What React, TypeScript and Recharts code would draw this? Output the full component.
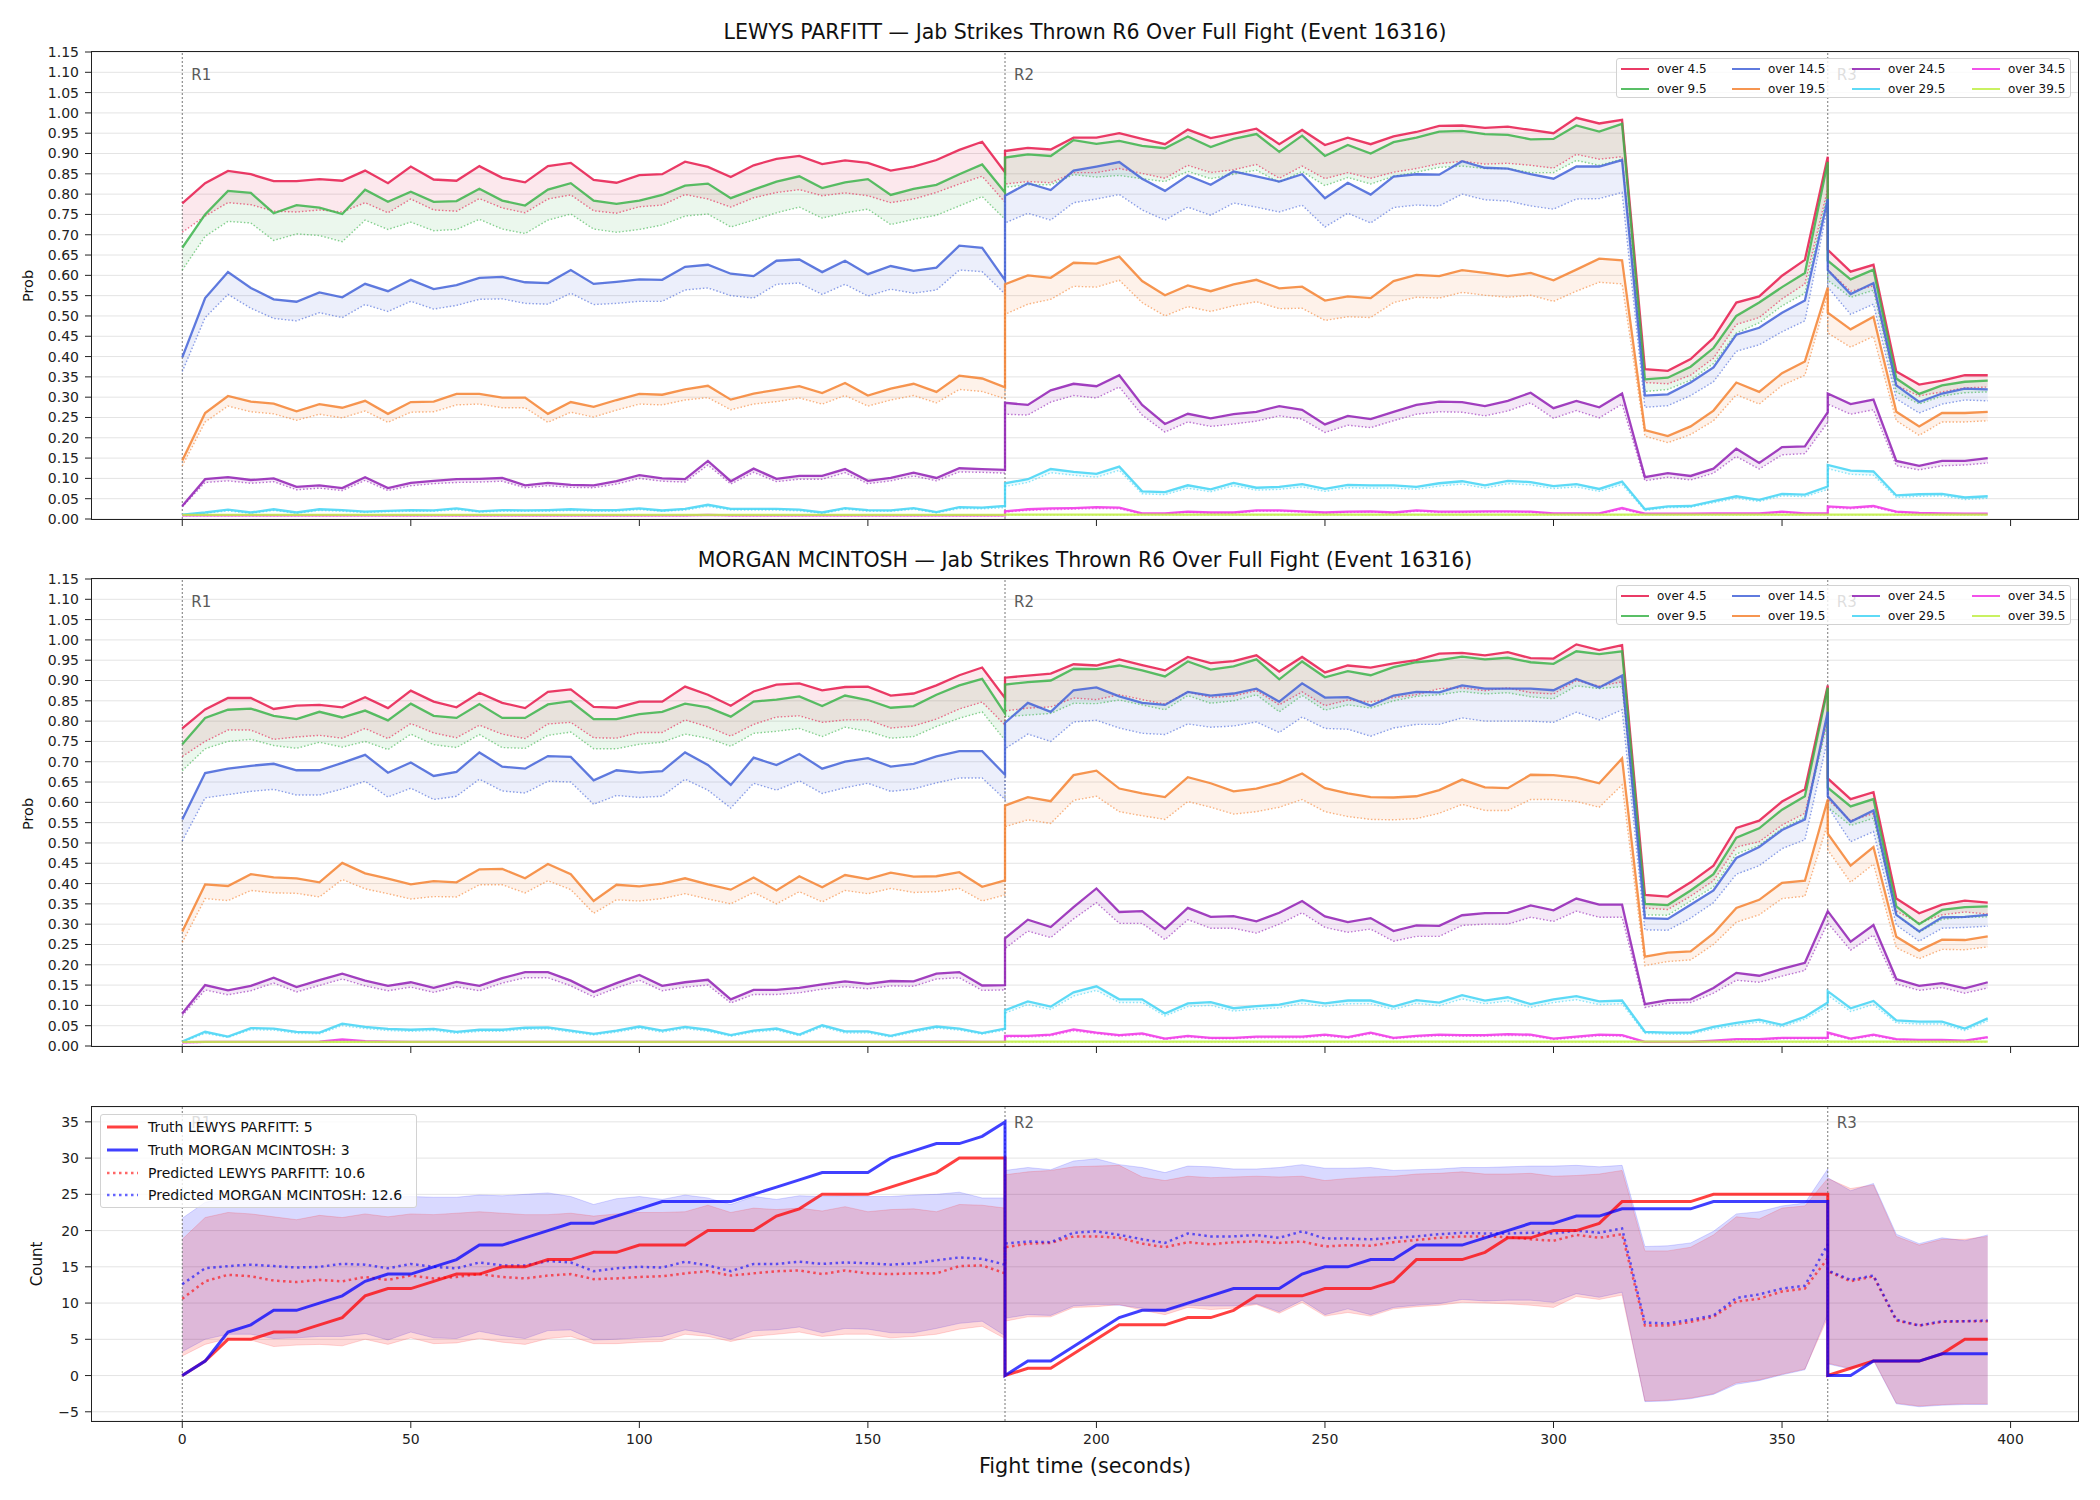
import React from 'react';
import { Area, CartesianGrid, ComposedChart, Line, ReferenceLine, XAxis, YAxis } from 'recharts';

const FONT = '"DejaVu Sans", Verdana, sans-serif';

// sample times in seconds; 180 and 360 appear twice (end of one round, start of the next)
const TIME = [
  0, 5, 10, 15, 20, 25, 30, 35, 40, 45, 50, 55, 60, 65, 70, 75, 80, 85, 90, 95, 100, 105, 110, 115, 120, 125, 130, 135, 140, 145, 150, 155, 160, 165, 170, 175, 180,
  180, 185, 190, 195, 200, 205, 210, 215, 220, 225, 230, 235, 240, 245, 250, 255, 260, 265, 270, 275, 280, 285, 290, 295, 300, 305, 310, 315, 320, 325, 330, 335, 340, 345, 350, 355, 360,
  360, 365, 370, 375, 380, 385, 390, 395,
];

const LINES = ['over 4.5', 'over 9.5', 'over 14.5', 'over 19.5', 'over 24.5', 'over 29.5', 'over 34.5', 'over 39.5'];
const LINE_COLORS = ['#e6194b', '#3cb44b', '#4363d8', '#f58231', '#911eb4', '#42d4f4', '#f032e6', '#bfef45'];

const PROB_TICKS = [0, 0.05, 0.1, 0.15, 0.2, 0.25, 0.3, 0.35, 0.4, 0.45, 0.5, 0.55, 0.6, 0.65, 0.7, 0.75, 0.8, 0.85, 0.9, 0.95, 1, 1.05, 1.1, 1.15];
const COUNT_TICKS = [-5, 0, 5, 10, 15, 20, 25, 30, 35];
const TIME_TICKS = [0, 50, 100, 150, 200, 250, 300, 350, 400];
const ROUND_STARTS = [0, 180, 360];
const ROUND_NAMES = ['R1', 'R2', 'R3'];

// ---- LEWYS PARFITT: model probability (solid) and predicted (dotted) per line
const L_RED = [
  0.777, 0.827, 0.857, 0.849, 0.832, 0.832, 0.837, 0.833, 0.858, 0.827, 0.868, 0.836, 0.833, 0.869, 0.84, 0.829, 0.869, 0.877, 0.835, 0.828, 0.847, 0.849, 0.88, 0.867, 0.842, 0.871, 0.887, 0.894, 0.874, 0.883, 0.877, 0.858, 0.868, 0.884, 0.909, 0.929, 0.854,
  0.906, 0.914, 0.91, 0.939, 0.939, 0.95, 0.936, 0.923, 0.959, 0.938, 0.949, 0.961, 0.923, 0.958, 0.921, 0.939, 0.923, 0.942, 0.953, 0.968, 0.969, 0.963, 0.966, 0.958, 0.95, 0.988, 0.974, 0.983, 0.369, 0.365, 0.394, 0.446, 0.533, 0.548, 0.599, 0.638, 0.892,
  0.663, 0.609, 0.626, 0.363, 0.331, 0.341, 0.354, 0.354,
];
const L_RED_P = [
  0.706, 0.746, 0.779, 0.774, 0.758, 0.756, 0.761, 0.756, 0.779, 0.754, 0.788, 0.761, 0.758, 0.789, 0.766, 0.754, 0.788, 0.798, 0.759, 0.753, 0.769, 0.773, 0.799, 0.788, 0.768, 0.791, 0.804, 0.811, 0.796, 0.803, 0.796, 0.779, 0.788, 0.804, 0.825, 0.844, 0.78,
  0.825, 0.831, 0.828, 0.853, 0.853, 0.863, 0.851, 0.839, 0.871, 0.853, 0.86, 0.873, 0.839, 0.869, 0.838, 0.853, 0.839, 0.854, 0.863, 0.875, 0.881, 0.874, 0.876, 0.871, 0.864, 0.898, 0.886, 0.892, 0.336, 0.333, 0.354, 0.396, 0.479, 0.496, 0.542, 0.579, 0.813,
  0.613, 0.561, 0.574, 0.329, 0.303, 0.313, 0.323, 0.325,
];
const L_GRN = [
  0.668, 0.75, 0.808, 0.803, 0.753, 0.773, 0.767, 0.751, 0.811, 0.781, 0.806, 0.781, 0.783, 0.813, 0.784, 0.772, 0.811, 0.827, 0.784, 0.776, 0.784, 0.798, 0.821, 0.826, 0.79, 0.811, 0.831, 0.844, 0.815, 0.829, 0.837, 0.798, 0.813, 0.823, 0.849, 0.873, 0.804,
  0.89, 0.898, 0.894, 0.933, 0.924, 0.931, 0.919, 0.913, 0.942, 0.916, 0.936, 0.948, 0.904, 0.944, 0.894, 0.921, 0.9, 0.928, 0.939, 0.954, 0.956, 0.948, 0.946, 0.935, 0.936, 0.969, 0.954, 0.973, 0.344, 0.348, 0.375, 0.421, 0.5, 0.533, 0.571, 0.606, 0.879,
  0.636, 0.59, 0.614, 0.346, 0.308, 0.329, 0.338, 0.341,
];
const L_GRN_P = [
  0.613, 0.696, 0.733, 0.729, 0.686, 0.702, 0.698, 0.683, 0.736, 0.713, 0.731, 0.71, 0.713, 0.738, 0.714, 0.703, 0.736, 0.751, 0.714, 0.706, 0.713, 0.724, 0.746, 0.751, 0.719, 0.736, 0.754, 0.768, 0.741, 0.754, 0.763, 0.725, 0.738, 0.748, 0.771, 0.794, 0.738,
  0.817, 0.823, 0.823, 0.848, 0.842, 0.846, 0.838, 0.831, 0.856, 0.838, 0.849, 0.859, 0.829, 0.856, 0.821, 0.841, 0.825, 0.844, 0.854, 0.866, 0.869, 0.863, 0.863, 0.853, 0.853, 0.883, 0.871, 0.886, 0.314, 0.319, 0.342, 0.383, 0.458, 0.483, 0.525, 0.556, 0.804,
  0.588, 0.546, 0.563, 0.313, 0.283, 0.303, 0.311, 0.313,
];
const L_BLU = [
  0.398, 0.544, 0.608, 0.569, 0.541, 0.535, 0.558, 0.546, 0.579, 0.561, 0.589, 0.566, 0.576, 0.594, 0.596, 0.583, 0.581, 0.613, 0.579, 0.584, 0.59, 0.589, 0.621, 0.626, 0.604, 0.598, 0.636, 0.639, 0.608, 0.636, 0.603, 0.623, 0.611, 0.619, 0.673, 0.668, 0.588,
  0.796, 0.827, 0.81, 0.858, 0.868, 0.879, 0.838, 0.808, 0.846, 0.823, 0.856, 0.844, 0.831, 0.849, 0.79, 0.828, 0.799, 0.843, 0.849, 0.848, 0.881, 0.865, 0.863, 0.849, 0.838, 0.868, 0.868, 0.884, 0.304, 0.307, 0.336, 0.373, 0.454, 0.471, 0.508, 0.538, 0.788,
  0.613, 0.554, 0.581, 0.329, 0.288, 0.309, 0.321, 0.319,
];
const L_BLU_P = [
  0.363, 0.496, 0.553, 0.519, 0.494, 0.488, 0.508, 0.496, 0.528, 0.511, 0.536, 0.517, 0.526, 0.541, 0.542, 0.531, 0.529, 0.556, 0.528, 0.531, 0.536, 0.536, 0.564, 0.569, 0.55, 0.544, 0.578, 0.581, 0.553, 0.578, 0.549, 0.566, 0.556, 0.564, 0.613, 0.609, 0.554,
  0.729, 0.753, 0.736, 0.779, 0.788, 0.799, 0.761, 0.736, 0.768, 0.748, 0.778, 0.768, 0.756, 0.773, 0.719, 0.753, 0.729, 0.767, 0.773, 0.771, 0.8, 0.786, 0.783, 0.771, 0.763, 0.788, 0.789, 0.804, 0.275, 0.279, 0.304, 0.338, 0.413, 0.429, 0.461, 0.488, 0.771,
  0.571, 0.504, 0.529, 0.296, 0.261, 0.283, 0.293, 0.291,
];
const L_ORG = [
  0.144, 0.261, 0.303, 0.289, 0.284, 0.265, 0.283, 0.274, 0.291, 0.259, 0.288, 0.289, 0.308, 0.308, 0.299, 0.299, 0.259, 0.288, 0.276, 0.293, 0.308, 0.306, 0.319, 0.328, 0.294, 0.309, 0.318, 0.327, 0.31, 0.335, 0.304, 0.321, 0.333, 0.313, 0.353, 0.346, 0.324,
  0.578, 0.6, 0.594, 0.631, 0.629, 0.646, 0.586, 0.551, 0.575, 0.561, 0.578, 0.589, 0.568, 0.572, 0.538, 0.548, 0.544, 0.586, 0.601, 0.598, 0.613, 0.606, 0.598, 0.606, 0.588, 0.614, 0.641, 0.637, 0.219, 0.204, 0.228, 0.267, 0.336, 0.313, 0.359, 0.388, 0.57,
  0.508, 0.467, 0.498, 0.264, 0.228, 0.261, 0.261, 0.264,
];
const L_ORG_P = [
  0.131, 0.239, 0.278, 0.264, 0.259, 0.243, 0.258, 0.249, 0.266, 0.238, 0.263, 0.264, 0.281, 0.283, 0.274, 0.274, 0.238, 0.263, 0.251, 0.268, 0.283, 0.281, 0.293, 0.299, 0.269, 0.283, 0.289, 0.298, 0.283, 0.304, 0.278, 0.293, 0.304, 0.286, 0.319, 0.314, 0.296,
  0.504, 0.529, 0.541, 0.573, 0.571, 0.588, 0.533, 0.5, 0.523, 0.511, 0.525, 0.535, 0.518, 0.519, 0.489, 0.498, 0.496, 0.533, 0.546, 0.544, 0.558, 0.551, 0.546, 0.551, 0.536, 0.561, 0.583, 0.579, 0.204, 0.188, 0.208, 0.242, 0.306, 0.283, 0.329, 0.354, 0.554,
  0.458, 0.423, 0.45, 0.242, 0.206, 0.239, 0.239, 0.242,
];
const L_PUR = [
  0.032, 0.098, 0.103, 0.096, 0.1, 0.079, 0.083, 0.076, 0.103, 0.076, 0.089, 0.094, 0.098, 0.099, 0.101, 0.083, 0.089, 0.084, 0.083, 0.093, 0.108, 0.1, 0.098, 0.143, 0.093, 0.124, 0.099, 0.106, 0.106, 0.123, 0.094, 0.101, 0.114, 0.101, 0.125, 0.123, 0.121,
  0.286, 0.281, 0.317, 0.333, 0.327, 0.354, 0.281, 0.234, 0.259, 0.248, 0.258, 0.264, 0.278, 0.269, 0.233, 0.254, 0.246, 0.264, 0.281, 0.289, 0.288, 0.278, 0.291, 0.311, 0.273, 0.291, 0.275, 0.309, 0.103, 0.113, 0.106, 0.124, 0.173, 0.138, 0.177, 0.179, 0.263,
  0.309, 0.283, 0.294, 0.143, 0.131, 0.143, 0.143, 0.15,
];
const L_PUR_P = [
  0.03, 0.09, 0.094, 0.088, 0.092, 0.072, 0.076, 0.07, 0.095, 0.07, 0.082, 0.087, 0.09, 0.091, 0.093, 0.077, 0.082, 0.078, 0.077, 0.086, 0.1, 0.093, 0.091, 0.133, 0.086, 0.115, 0.092, 0.098, 0.098, 0.114, 0.087, 0.094, 0.106, 0.094, 0.116, 0.115, 0.113,
  0.258, 0.256, 0.288, 0.304, 0.298, 0.325, 0.256, 0.214, 0.239, 0.228, 0.234, 0.241, 0.254, 0.246, 0.213, 0.231, 0.225, 0.242, 0.258, 0.264, 0.263, 0.254, 0.266, 0.286, 0.248, 0.267, 0.249, 0.283, 0.094, 0.103, 0.096, 0.113, 0.154, 0.123, 0.158, 0.161, 0.238,
  0.283, 0.258, 0.269, 0.131, 0.121, 0.131, 0.133, 0.138,
];
const L_CYN = [
  0.011, 0.016, 0.023, 0.016, 0.024, 0.016, 0.024, 0.022, 0.018, 0.02, 0.022, 0.021, 0.026, 0.019, 0.022, 0.021, 0.022, 0.024, 0.022, 0.022, 0.026, 0.021, 0.025, 0.035, 0.025, 0.025, 0.025, 0.023, 0.016, 0.027, 0.022, 0.021, 0.027, 0.017, 0.029, 0.028, 0.032,
  0.088, 0.098, 0.123, 0.116, 0.111, 0.129, 0.068, 0.066, 0.083, 0.073, 0.089, 0.077, 0.079, 0.086, 0.074, 0.084, 0.083, 0.083, 0.079, 0.088, 0.093, 0.083, 0.094, 0.091, 0.081, 0.086, 0.074, 0.092, 0.024, 0.031, 0.032, 0.044, 0.056, 0.047, 0.062, 0.06, 0.08,
  0.133, 0.119, 0.117, 0.058, 0.061, 0.062, 0.053, 0.056,
];
const L_CYN_P = [
  0.01, 0.014, 0.02, 0.014, 0.021, 0.014, 0.021, 0.019, 0.016, 0.018, 0.019, 0.019, 0.023, 0.017, 0.019, 0.019, 0.019, 0.021, 0.019, 0.019, 0.023, 0.019, 0.022, 0.031, 0.022, 0.022, 0.022, 0.02, 0.014, 0.024, 0.019, 0.019, 0.024, 0.015, 0.026, 0.025, 0.028,
  0.08, 0.09, 0.114, 0.108, 0.103, 0.12, 0.062, 0.06, 0.076, 0.067, 0.082, 0.071, 0.073, 0.079, 0.068, 0.077, 0.076, 0.076, 0.073, 0.081, 0.086, 0.076, 0.087, 0.084, 0.075, 0.079, 0.068, 0.085, 0.021, 0.028, 0.029, 0.04, 0.051, 0.043, 0.057, 0.055, 0.073,
  0.124, 0.11, 0.108, 0.053, 0.056, 0.057, 0.048, 0.051,
];
const L_MAG = [
  0.009, 0.009, 0.009, 0.009, 0.009, 0.009, 0.009, 0.009, 0.009, 0.009, 0.009, 0.009, 0.009, 0.009, 0.009, 0.009, 0.009, 0.009, 0.009, 0.009, 0.009, 0.009, 0.009, 0.01, 0.009, 0.009, 0.009, 0.009, 0.009, 0.009, 0.009, 0.009, 0.009, 0.009, 0.009, 0.009, 0.009,
  0.019, 0.024, 0.026, 0.027, 0.029, 0.028, 0.014, 0.014, 0.018, 0.016, 0.016, 0.021, 0.021, 0.019, 0.016, 0.018, 0.019, 0.016, 0.021, 0.018, 0.018, 0.019, 0.019, 0.018, 0.014, 0.014, 0.014, 0.027, 0.013, 0.013, 0.013, 0.014, 0.014, 0.014, 0.018, 0.014, 0.014,
  0.031, 0.028, 0.032, 0.018, 0.015, 0.014, 0.013, 0.013,
];
const L_MAG_P = [
  0.008, 0.008, 0.008, 0.008, 0.008, 0.008, 0.008, 0.008, 0.008, 0.008, 0.008, 0.008, 0.008, 0.008, 0.008, 0.008, 0.008, 0.008, 0.008, 0.008, 0.008, 0.008, 0.008, 0.009, 0.008, 0.008, 0.008, 0.008, 0.008, 0.008, 0.008, 0.008, 0.008, 0.008, 0.008, 0.008, 0.008,
  0.017, 0.021, 0.023, 0.024, 0.026, 0.025, 0.012, 0.012, 0.016, 0.014, 0.014, 0.019, 0.019, 0.017, 0.014, 0.016, 0.017, 0.014, 0.019, 0.016, 0.016, 0.017, 0.017, 0.016, 0.012, 0.012, 0.012, 0.024, 0.011, 0.011, 0.011, 0.012, 0.012, 0.012, 0.016, 0.012, 0.012,
  0.028, 0.025, 0.029, 0.016, 0.013, 0.012, 0.011, 0.011,
];
const L_LIM = [
  0.01, 0.01, 0.01, 0.01, 0.01, 0.01, 0.01, 0.01, 0.01, 0.01, 0.01, 0.01, 0.01, 0.01, 0.01, 0.01, 0.01, 0.01, 0.01, 0.01, 0.01, 0.01, 0.01, 0.01, 0.01, 0.01, 0.01, 0.01, 0.01, 0.01, 0.01, 0.01, 0.01, 0.01, 0.01, 0.01, 0.01,
  0.011, 0.011, 0.011, 0.011, 0.011, 0.011, 0.011, 0.011, 0.011, 0.011, 0.011, 0.011, 0.011, 0.011, 0.011, 0.011, 0.011, 0.011, 0.011, 0.011, 0.011, 0.011, 0.011, 0.011, 0.011, 0.011, 0.011, 0.011, 0.011, 0.011, 0.011, 0.011, 0.011, 0.011, 0.011, 0.011, 0.011,
  0.011, 0.011, 0.011, 0.011, 0.011, 0.011, 0.011, 0.011,
];
const L_LIM_P = [
  0.009, 0.009, 0.009, 0.009, 0.009, 0.009, 0.009, 0.009, 0.009, 0.009, 0.009, 0.009, 0.009, 0.009, 0.009, 0.009, 0.009, 0.009, 0.009, 0.009, 0.009, 0.009, 0.009, 0.009, 0.009, 0.009, 0.009, 0.009, 0.009, 0.009, 0.009, 0.009, 0.009, 0.009, 0.009, 0.009, 0.009,
  0.01, 0.01, 0.01, 0.01, 0.01, 0.01, 0.01, 0.01, 0.01, 0.01, 0.01, 0.01, 0.01, 0.01, 0.01, 0.01, 0.01, 0.01, 0.01, 0.01, 0.01, 0.01, 0.01, 0.01, 0.01, 0.01, 0.01, 0.01, 0.01, 0.01, 0.01, 0.01, 0.01, 0.01, 0.01, 0.01, 0.01,
  0.01, 0.01, 0.01, 0.01, 0.01, 0.01, 0.01, 0.01,
];

// ---- MORGAN MCINTOSH
const M_RED = [
  0.782, 0.829, 0.857, 0.857, 0.83, 0.838, 0.84, 0.834, 0.859, 0.832, 0.875, 0.848, 0.834, 0.87, 0.845, 0.832, 0.872, 0.878, 0.835, 0.833, 0.848, 0.848, 0.885, 0.865, 0.838, 0.873, 0.89, 0.893, 0.876, 0.884, 0.885, 0.863, 0.868, 0.888, 0.913, 0.932, 0.857,
  0.907, 0.912, 0.917, 0.94, 0.937, 0.952, 0.938, 0.925, 0.958, 0.943, 0.948, 0.962, 0.922, 0.958, 0.92, 0.937, 0.932, 0.942, 0.95, 0.966, 0.968, 0.962, 0.97, 0.955, 0.954, 0.989, 0.975, 0.987, 0.372, 0.368, 0.403, 0.444, 0.537, 0.555, 0.602, 0.632, 0.888,
  0.659, 0.608, 0.625, 0.363, 0.327, 0.348, 0.358, 0.353,
];
const M_RED_P = [
  0.713, 0.75, 0.778, 0.778, 0.755, 0.761, 0.765, 0.758, 0.782, 0.757, 0.794, 0.771, 0.759, 0.79, 0.768, 0.757, 0.793, 0.797, 0.759, 0.758, 0.772, 0.772, 0.803, 0.786, 0.763, 0.792, 0.81, 0.813, 0.797, 0.803, 0.803, 0.783, 0.788, 0.805, 0.83, 0.847, 0.79,
  0.825, 0.832, 0.835, 0.857, 0.853, 0.865, 0.853, 0.842, 0.872, 0.858, 0.862, 0.875, 0.84, 0.872, 0.838, 0.852, 0.847, 0.858, 0.865, 0.88, 0.882, 0.875, 0.882, 0.87, 0.867, 0.9, 0.886, 0.897, 0.34, 0.336, 0.369, 0.407, 0.49, 0.503, 0.544, 0.573, 0.807,
  0.607, 0.555, 0.572, 0.332, 0.303, 0.323, 0.33, 0.325,
];
const M_GRN = [
  0.743, 0.808, 0.828, 0.831, 0.813, 0.805, 0.823, 0.809, 0.826, 0.802, 0.843, 0.813, 0.808, 0.842, 0.808, 0.808, 0.841, 0.849, 0.805, 0.805, 0.817, 0.823, 0.843, 0.834, 0.811, 0.848, 0.853, 0.861, 0.837, 0.863, 0.852, 0.833, 0.837, 0.865, 0.888, 0.904, 0.819,
  0.89, 0.896, 0.9, 0.929, 0.928, 0.937, 0.925, 0.91, 0.947, 0.927, 0.935, 0.952, 0.903, 0.947, 0.908, 0.923, 0.913, 0.933, 0.945, 0.95, 0.959, 0.952, 0.956, 0.945, 0.941, 0.972, 0.965, 0.972, 0.35, 0.347, 0.383, 0.423, 0.513, 0.536, 0.582, 0.615, 0.882,
  0.636, 0.59, 0.608, 0.344, 0.3, 0.335, 0.342, 0.344,
];
const M_GRN_P = [
  0.678, 0.732, 0.75, 0.755, 0.74, 0.733, 0.748, 0.736, 0.75, 0.73, 0.768, 0.742, 0.735, 0.767, 0.735, 0.733, 0.765, 0.773, 0.732, 0.732, 0.743, 0.748, 0.768, 0.758, 0.738, 0.77, 0.775, 0.782, 0.762, 0.785, 0.775, 0.758, 0.762, 0.787, 0.807, 0.823, 0.753,
  0.811, 0.815, 0.819, 0.844, 0.843, 0.852, 0.84, 0.828, 0.863, 0.844, 0.85, 0.865, 0.823, 0.863, 0.827, 0.84, 0.832, 0.85, 0.861, 0.865, 0.873, 0.867, 0.87, 0.86, 0.855, 0.887, 0.88, 0.885, 0.323, 0.322, 0.357, 0.392, 0.473, 0.494, 0.536, 0.563, 0.798,
  0.588, 0.543, 0.561, 0.323, 0.28, 0.312, 0.317, 0.318,
];
const M_BLU = [
  0.558, 0.672, 0.683, 0.69, 0.695, 0.679, 0.679, 0.697, 0.717, 0.673, 0.698, 0.665, 0.675, 0.723, 0.688, 0.683, 0.714, 0.712, 0.654, 0.679, 0.673, 0.677, 0.723, 0.692, 0.643, 0.71, 0.692, 0.719, 0.683, 0.7, 0.709, 0.688, 0.695, 0.713, 0.726, 0.726, 0.668,
  0.796, 0.845, 0.823, 0.876, 0.883, 0.861, 0.845, 0.84, 0.872, 0.863, 0.868, 0.88, 0.848, 0.893, 0.858, 0.859, 0.838, 0.863, 0.872, 0.871, 0.888, 0.88, 0.88, 0.88, 0.876, 0.904, 0.883, 0.912, 0.315, 0.313, 0.348, 0.383, 0.463, 0.49, 0.532, 0.558, 0.823,
  0.615, 0.552, 0.58, 0.323, 0.282, 0.317, 0.318, 0.323,
];
const M_BLU_P = [
  0.505, 0.611, 0.619, 0.627, 0.632, 0.618, 0.618, 0.633, 0.652, 0.613, 0.635, 0.607, 0.615, 0.657, 0.628, 0.623, 0.652, 0.65, 0.595, 0.617, 0.612, 0.615, 0.657, 0.63, 0.586, 0.647, 0.63, 0.653, 0.622, 0.636, 0.647, 0.627, 0.633, 0.648, 0.66, 0.66, 0.607,
  0.732, 0.768, 0.75, 0.798, 0.802, 0.783, 0.77, 0.767, 0.793, 0.785, 0.788, 0.798, 0.772, 0.81, 0.782, 0.78, 0.763, 0.783, 0.792, 0.792, 0.808, 0.8, 0.8, 0.8, 0.797, 0.822, 0.803, 0.828, 0.286, 0.285, 0.315, 0.353, 0.423, 0.444, 0.486, 0.508, 0.757,
  0.59, 0.503, 0.528, 0.298, 0.258, 0.29, 0.292, 0.295,
];
const M_ORG = [
  0.282, 0.398, 0.394, 0.423, 0.415, 0.413, 0.403, 0.451, 0.425, 0.412, 0.398, 0.406, 0.403, 0.435, 0.436, 0.413, 0.448, 0.423, 0.357, 0.397, 0.393, 0.4, 0.413, 0.398, 0.385, 0.415, 0.383, 0.418, 0.391, 0.421, 0.411, 0.427, 0.417, 0.418, 0.428, 0.392, 0.408,
  0.592, 0.613, 0.603, 0.667, 0.678, 0.634, 0.622, 0.613, 0.662, 0.647, 0.627, 0.634, 0.648, 0.671, 0.635, 0.622, 0.613, 0.612, 0.615, 0.63, 0.656, 0.637, 0.635, 0.668, 0.667, 0.661, 0.647, 0.708, 0.22, 0.23, 0.233, 0.277, 0.34, 0.36, 0.402, 0.407, 0.607,
  0.523, 0.444, 0.49, 0.269, 0.235, 0.262, 0.261, 0.27,
];
const M_ORG_P = [
  0.255, 0.363, 0.358, 0.383, 0.377, 0.376, 0.367, 0.41, 0.387, 0.375, 0.362, 0.368, 0.367, 0.397, 0.397, 0.377, 0.407, 0.385, 0.327, 0.36, 0.357, 0.363, 0.375, 0.362, 0.35, 0.378, 0.35, 0.38, 0.355, 0.383, 0.375, 0.388, 0.378, 0.38, 0.388, 0.357, 0.372,
  0.54, 0.557, 0.548, 0.605, 0.615, 0.577, 0.567, 0.558, 0.602, 0.588, 0.571, 0.577, 0.588, 0.607, 0.577, 0.565, 0.558, 0.557, 0.56, 0.573, 0.595, 0.58, 0.58, 0.607, 0.607, 0.602, 0.588, 0.643, 0.198, 0.208, 0.212, 0.25, 0.305, 0.323, 0.363, 0.369, 0.548,
  0.483, 0.403, 0.448, 0.242, 0.215, 0.238, 0.237, 0.244,
];
const M_PUR = [
  0.08, 0.15, 0.137, 0.148, 0.168, 0.145, 0.162, 0.178, 0.161, 0.148, 0.157, 0.143, 0.158, 0.148, 0.167, 0.182, 0.182, 0.161, 0.133, 0.155, 0.175, 0.148, 0.157, 0.163, 0.115, 0.138, 0.138, 0.143, 0.152, 0.159, 0.153, 0.16, 0.159, 0.178, 0.182, 0.149, 0.15,
  0.265, 0.311, 0.293, 0.342, 0.388, 0.33, 0.332, 0.288, 0.34, 0.318, 0.32, 0.307, 0.328, 0.357, 0.319, 0.305, 0.315, 0.283, 0.297, 0.296, 0.322, 0.327, 0.328, 0.346, 0.334, 0.363, 0.348, 0.348, 0.103, 0.113, 0.115, 0.143, 0.18, 0.173, 0.19, 0.205, 0.332,
  0.332, 0.257, 0.298, 0.165, 0.148, 0.155, 0.142, 0.157,
];
const M_PUR_P = [
  0.075, 0.138, 0.126, 0.136, 0.155, 0.133, 0.149, 0.165, 0.148, 0.136, 0.145, 0.132, 0.146, 0.136, 0.155, 0.168, 0.168, 0.148, 0.121, 0.143, 0.162, 0.136, 0.145, 0.15, 0.106, 0.127, 0.127, 0.131, 0.14, 0.146, 0.141, 0.148, 0.147, 0.165, 0.168, 0.137, 0.138,
  0.24, 0.283, 0.267, 0.313, 0.353, 0.302, 0.302, 0.262, 0.311, 0.29, 0.29, 0.278, 0.3, 0.328, 0.292, 0.28, 0.288, 0.258, 0.27, 0.27, 0.297, 0.3, 0.3, 0.317, 0.307, 0.332, 0.317, 0.317, 0.095, 0.105, 0.107, 0.13, 0.162, 0.157, 0.172, 0.186, 0.303,
  0.303, 0.236, 0.273, 0.153, 0.137, 0.144, 0.13, 0.143,
];
const M_CYN = [
  0.011, 0.035, 0.023, 0.044, 0.043, 0.035, 0.033, 0.055, 0.047, 0.042, 0.04, 0.042, 0.035, 0.04, 0.04, 0.045, 0.046, 0.038, 0.03, 0.038, 0.048, 0.038, 0.047, 0.04, 0.027, 0.038, 0.043, 0.028, 0.051, 0.036, 0.036, 0.025, 0.038, 0.048, 0.043, 0.032, 0.043,
  0.088, 0.11, 0.097, 0.132, 0.147, 0.115, 0.115, 0.08, 0.105, 0.108, 0.093, 0.098, 0.102, 0.113, 0.105, 0.112, 0.112, 0.097, 0.113, 0.107, 0.125, 0.112, 0.12, 0.103, 0.115, 0.123, 0.11, 0.112, 0.035, 0.033, 0.033, 0.047, 0.057, 0.065, 0.052, 0.072, 0.107,
  0.135, 0.093, 0.111, 0.063, 0.06, 0.06, 0.043, 0.068,
];
const M_CYN_P = [
  0.01, 0.031, 0.021, 0.04, 0.039, 0.031, 0.03, 0.05, 0.043, 0.038, 0.036, 0.038, 0.031, 0.036, 0.036, 0.041, 0.042, 0.034, 0.027, 0.034, 0.044, 0.034, 0.043, 0.036, 0.024, 0.034, 0.039, 0.025, 0.047, 0.032, 0.032, 0.022, 0.034, 0.044, 0.039, 0.029, 0.039,
  0.081, 0.102, 0.09, 0.123, 0.137, 0.107, 0.107, 0.074, 0.097, 0.1, 0.086, 0.091, 0.094, 0.105, 0.097, 0.104, 0.104, 0.09, 0.105, 0.099, 0.116, 0.104, 0.111, 0.095, 0.107, 0.114, 0.102, 0.104, 0.031, 0.029, 0.029, 0.042, 0.051, 0.059, 0.047, 0.066, 0.098,
  0.125, 0.085, 0.102, 0.057, 0.054, 0.054, 0.038, 0.062,
];
const M_MAG = [
  0.009, 0.01, 0.01, 0.01, 0.01, 0.01, 0.011, 0.016, 0.012, 0.011, 0.01, 0.01, 0.01, 0.01, 0.01, 0.01, 0.01, 0.01, 0.01, 0.01, 0.01, 0.01, 0.01, 0.01, 0.01, 0.01, 0.01, 0.01, 0.01, 0.01, 0.01, 0.01, 0.011, 0.011, 0.011, 0.01, 0.011,
  0.025, 0.025, 0.028, 0.041, 0.033, 0.027, 0.031, 0.018, 0.025, 0.02, 0.02, 0.023, 0.023, 0.023, 0.028, 0.022, 0.033, 0.02, 0.025, 0.028, 0.027, 0.027, 0.029, 0.028, 0.018, 0.023, 0.028, 0.027, 0.01, 0.01, 0.01, 0.013, 0.017, 0.017, 0.02, 0.02, 0.02,
  0.033, 0.018, 0.028, 0.017, 0.015, 0.015, 0.013, 0.022,
];
const M_MAG_P = [
  0.008, 0.009, 0.009, 0.009, 0.009, 0.009, 0.01, 0.014, 0.011, 0.01, 0.009, 0.009, 0.009, 0.009, 0.009, 0.009, 0.009, 0.009, 0.009, 0.009, 0.009, 0.009, 0.009, 0.009, 0.009, 0.009, 0.009, 0.009, 0.009, 0.009, 0.009, 0.009, 0.01, 0.01, 0.01, 0.009, 0.01,
  0.022, 0.022, 0.025, 0.037, 0.03, 0.024, 0.028, 0.016, 0.022, 0.018, 0.018, 0.02, 0.02, 0.02, 0.025, 0.019, 0.03, 0.018, 0.022, 0.025, 0.024, 0.024, 0.026, 0.025, 0.016, 0.02, 0.025, 0.024, 0.009, 0.009, 0.009, 0.011, 0.015, 0.015, 0.018, 0.018, 0.018,
  0.03, 0.016, 0.025, 0.015, 0.013, 0.013, 0.011, 0.02,
];
const M_LIM = [
  0.01, 0.01, 0.01, 0.01, 0.01, 0.01, 0.01, 0.01, 0.01, 0.01, 0.01, 0.01, 0.01, 0.01, 0.01, 0.01, 0.01, 0.01, 0.01, 0.01, 0.01, 0.01, 0.01, 0.01, 0.01, 0.01, 0.01, 0.01, 0.01, 0.01, 0.01, 0.01, 0.01, 0.01, 0.01, 0.01, 0.01,
  0.011, 0.011, 0.011, 0.011, 0.011, 0.011, 0.011, 0.011, 0.011, 0.011, 0.011, 0.011, 0.011, 0.011, 0.011, 0.011, 0.011, 0.011, 0.011, 0.011, 0.011, 0.011, 0.011, 0.011, 0.011, 0.011, 0.011, 0.011, 0.011, 0.011, 0.011, 0.011, 0.011, 0.011, 0.011, 0.011, 0.011,
  0.011, 0.011, 0.011, 0.011, 0.011, 0.011, 0.011, 0.011,
];
const M_LIM_P = [
  0.009, 0.009, 0.009, 0.009, 0.009, 0.009, 0.009, 0.009, 0.009, 0.009, 0.009, 0.009, 0.009, 0.009, 0.009, 0.009, 0.009, 0.009, 0.009, 0.009, 0.009, 0.009, 0.009, 0.009, 0.009, 0.009, 0.009, 0.009, 0.009, 0.009, 0.009, 0.009, 0.009, 0.009, 0.009, 0.009, 0.009,
  0.01, 0.01, 0.01, 0.01, 0.01, 0.01, 0.01, 0.01, 0.01, 0.01, 0.01, 0.01, 0.01, 0.01, 0.01, 0.01, 0.01, 0.01, 0.01, 0.01, 0.01, 0.01, 0.01, 0.01, 0.01, 0.01, 0.01, 0.01, 0.01, 0.01, 0.01, 0.01, 0.01, 0.01, 0.01, 0.01, 0.01,
  0.01, 0.01, 0.01, 0.01, 0.01, 0.01, 0.01, 0.01,
];

// ---- counts: cumulative truth, predicted total and its band, per fighter
const TRUTH_L = [
  0, 2, 5, 5, 6, 6, 7, 8, 11, 12, 12, 13, 14, 14, 15, 15, 16, 16, 17, 17, 18, 18, 18, 20, 20, 20, 22, 23, 25, 25, 25, 26, 27, 28, 30, 30, 30,
  0, 1, 1, 3, 5, 7, 7, 7, 8, 8, 9, 11, 11, 11, 12, 12, 12, 13, 16, 16, 16, 17, 19, 19, 20, 20, 21, 24, 24, 24, 24, 25, 25, 25, 25, 25, 25,
  0, 1, 2, 2, 2, 3, 5, 5,
];
const TRUTH_M = [
  0, 2, 6, 7, 9, 9, 10, 11, 13, 14, 14, 15, 16, 18, 18, 19, 20, 21, 21, 22, 23, 24, 24, 24, 24, 25, 26, 27, 28, 28, 28, 30, 31, 32, 32, 33, 35,
  0, 2, 2, 4, 6, 8, 9, 9, 10, 11, 12, 12, 12, 14, 15, 15, 16, 16, 18, 18, 18, 19, 20, 21, 21, 22, 22, 23, 23, 23, 23, 24, 24, 24, 24, 24, 24,
  0, 0, 2, 2, 2, 3, 3, 3,
];
const PRED_L = [
  10.6, 13, 13.9, 13.7, 13.1, 12.9, 13.2, 13, 13.6, 13.2, 13.8, 13.4, 13.6, 14, 13.6, 13.4, 13.8, 14, 13.3, 13.4, 13.6, 13.7, 14.1, 14.4, 13.8, 14.1, 14.4, 14.5, 14, 14.5, 14.1, 14, 14.1, 14.1, 15.1, 15.2, 14.1,
  17.7, 18.2, 18.3, 19.2, 19.2, 19, 18.2, 17.7, 18.4, 18.1, 18.4, 18.5, 18.3, 18.5, 17.8, 18, 17.9, 18.4, 18.7, 19, 19.2, 19.2, 19.1, 18.8, 18.6, 19.4, 19, 19.5, 6.9, 6.9, 7.4, 8.1, 10.2, 10.6, 11.6, 12, 16.2,
  14.4, 13, 13.7, 7.6, 6.9, 7.4, 7.5, 7.5,
];
const PRED_M = [
  12.6, 14.8, 15.1, 15.3, 15.1, 14.9, 15, 15.4, 15.3, 14.8, 15.4, 15, 14.8, 15.6, 15.2, 15.2, 15.8, 15.6, 14.4, 14.8, 15, 14.9, 15.7, 15.2, 14.4, 15.4, 15.4, 15.7, 15.4, 15.6, 15.5, 15.3, 15.5, 15.9, 16.3, 16.1, 15.3,
  18.2, 18.5, 18.4, 19.7, 19.9, 19.4, 18.8, 18.3, 19.6, 19.2, 19.2, 19.4, 19, 19.9, 18.9, 18.9, 18.8, 19, 19.2, 19.5, 19.7, 19.6, 19.6, 19.7, 19.6, 20, 19.7, 20.3, 7.3, 7.2, 7.7, 8.3, 10.7, 11.2, 12, 12.4, 18.1,
  14.5, 13.2, 13.8, 7.7, 6.9, 7.5, 7.5, 7.6,
];
const BAND_L_HI = [
  18.8, 21.8, 22.5, 22.3, 21.9, 21.5, 22.1, 21.8, 22.3, 21.9, 22.3, 22.2, 22.4, 22.6, 22.4, 22.2, 22.2, 22.4, 22, 22.3, 22.5, 22.5, 22.6, 23.5, 22.5, 23.1, 22.9, 23.1, 22.7, 23.3, 22.6, 22.9, 23, 22.6, 23.6, 23.5, 23.1,
  27.7, 28.1, 28.3, 28.8, 28.9, 29, 27.4, 26.9, 27.5, 27.3, 27.4, 27.5, 27.4, 27.5, 26.9, 27.2, 27.4, 27.5, 27.8, 27.9, 28.1, 27.8, 27.8, 27.9, 27.5, 27.6, 27.8, 28.3, 17.2, 17.2, 17.7, 19.4, 21.9, 21.6, 23.1, 23.4, 27.2,
  27.2, 25.8, 26.3, 19.2, 18, 18.8, 18.8, 19.2,
];
const BAND_L_LO = [
  2.7, 4.3, 5.1, 4.9, 4, 4.2, 4.3, 4.1, 5, 4.3, 5.2, 4.4, 4.5, 5.1, 4.6, 4.3, 5.1, 5.4, 4.4, 4.4, 4.6, 4.7, 5.7, 5.4, 4.7, 5.4, 5.7, 6, 5.4, 5.7, 5.7, 5.2, 5.4, 5.7, 6.4, 6.8, 5.1,
  7.5, 8.1, 8.1, 9.4, 9.5, 9.8, 9, 8.4, 9.4, 9.1, 9.3, 9.8, 8.6, 10.1, 8.2, 8.7, 8.2, 9.2, 9.5, 9.7, 10.1, 10, 9.9, 9.7, 9.4, 10.9, 10.5, 11.1, -3.5, -3.4, -3.1, -2.5, -1, -0.6, 0.2, 0.9, 8,
  1.7, 1, 2.2, -3.8, -4.2, -4, -3.9, -3.9,
];
const BAND_M_HI = [
  21.7, 23.9, 24.5, 24.6, 24.7, 24.5, 24.6, 24.7, 24.7, 24.6, 24.7, 24.6, 24.6, 24.9, 24.8, 25, 25.2, 24.7, 23.6, 24.4, 24.7, 24.3, 24.9, 24.5, 23.6, 24.7, 24.3, 24.8, 24.7, 24.8, 24.7, 24.7, 24.9, 25, 25.3, 24.5, 24.5,
  28.3, 28.7, 28.4, 29.6, 29.9, 29.1, 28.7, 28, 28.9, 28.8, 28.5, 28.5, 28.7, 29.1, 28.6, 28.6, 28.7, 28.3, 28.4, 28.5, 28.7, 28.7, 28.8, 28.9, 28.9, 29, 28.8, 29, 17.8, 17.9, 18.3, 19.9, 22.3, 22.6, 23.4, 23.8, 28.5,
  27.3, 25.5, 26.5, 19.5, 18.2, 19, 18.6, 19.4,
];
const BAND_M_LO = [
  3.3, 5, 5.7, 5.7, 5.1, 5.2, 5.4, 5.4, 5.8, 4.9, 6, 5.2, 5.1, 6.1, 5.5, 5.1, 6.2, 6.3, 4.9, 5, 5.2, 5.4, 6.3, 5.8, 5, 6.2, 6.3, 6.7, 5.9, 6.5, 6.4, 5.9, 5.9, 6.5, 7.2, 7.5, 5.5,
  7.9, 8.4, 8.3, 9.6, 9.8, 9.7, 9.3, 8.8, 9.7, 9.6, 9.6, 9.9, 8.8, 10.4, 8.4, 9.2, 8.4, 9.4, 9.7, 9.9, 10.5, 10.3, 10.4, 10.4, 10.1, 11.3, 10.8, 11.5, -3.6, -3.5, -3.2, -2.6, -1.2, -0.7, 0.1, 0.8, 8.5,
  1.6, 0.9, 2.1, -3.9, -4.3, -4.1, -4, -4,
];

const L_SOLID = [L_RED, L_GRN, L_BLU, L_ORG, L_PUR, L_CYN, L_MAG, L_LIM];
const L_PRED = [L_RED_P, L_GRN_P, L_BLU_P, L_ORG_P, L_PUR_P, L_CYN_P, L_MAG_P, L_LIM_P];
const M_SOLID = [M_RED, M_GRN, M_BLU, M_ORG, M_PUR, M_CYN, M_MAG, M_LIM];
const M_PRED = [M_RED_P, M_GRN_P, M_BLU_P, M_ORG_P, M_PUR_P, M_CYN_P, M_MAG_P, M_LIM_P];

const X_DOMAIN: [number, number] = [-19.75, 414.75];
const PLOT_LEFT = 92;
const PLOT_W = 1986;
const AXIS_FONT = { fontSize: 14, fill: '#222', fontFamily: FONT };

function probRows(solid: number[][], pred: number[][]) {
  return TIME.map((t, i) => {
    const row: Record<string, unknown> = { t };
    solid.forEach((s, k) => {
      row['s' + k] = s[i];
      row['p' + k] = pred[k][i];
      row['b' + k] = [pred[k][i], s[i]];
    });
    return row;
  });
}

const countRows = TIME.map((t, i) => ({
  t,
  truthL: TRUTH_L[i],
  truthM: TRUTH_M[i],
  predL: PRED_L[i],
  predM: PRED_M[i],
  bandL: [BAND_L_LO[i], BAND_L_HI[i]],
  bandM: [BAND_M_LO[i], BAND_M_HI[i]],
}));

// round name drawn just right of each dotted round marker
function roundLabel(name: string) {
  return (props: any) => {
    const vb = props.viewBox || {};
    return (
      <text x={vb.x + 9} y={vb.y + vb.height * 0.05 + 5} fill="#5a5a5a" fontSize={15} fontFamily={FONT}>
        {name}
      </text>
    );
  };
}

function roundMarkers() {
  return ROUND_STARTS.map((x, i) => (
    <ReferenceLine
      key={'r' + i}
      x={x}
      stroke="#777"
      strokeWidth={1}
      strokeDasharray="2 2"
      label={roundLabel(ROUND_NAMES[i])}
    />
  ));
}

function ProbChart({ top, solid, pred }: { top: number; solid: number[][]; pred: number[][] }) {
  const rows = probRows(solid, pred);
  return (
    <div style={{ position: 'absolute', left: 0, top }}>
      <ComposedChart width={2100} height={560} data={rows} margin={{ top: 52, right: 22, bottom: 0, left: 0 }}>
        <CartesianGrid vertical={false} stroke="#e4e4e4" />
        <XAxis
          type="number"
          dataKey="t"
          domain={X_DOMAIN}
          ticks={TIME_TICKS}
          interval={0}
          allowDataOverflow
          height={41}
          tickSize={7}
          axisLine={false}
          tickLine={{ stroke: '#222' }}
          tickFormatter={() => ''}
        />
        <YAxis
          type="number"
          domain={[0, 1.15]}
          ticks={PROB_TICKS}
          interval={0}
          allowDataOverflow
          width={PLOT_LEFT}
          tickSize={7}
          tickMargin={6}
          axisLine={false}
          tickLine={{ stroke: '#222' }}
          tick={AXIS_FONT}
          tickFormatter={(v: number) => v.toFixed(2)}
        />
        {roundMarkers()}
        {solid.map((_, k) => (
          <Area
            key={'b' + k}
            dataKey={'b' + k}
            type="linear"
            fill={LINE_COLORS[k]}
            fillOpacity={0.1}
            stroke="none"
            dot={false}
            activeDot={false}
            isAnimationActive={false}
          />
        ))}
        {pred.map((_, k) => (
          <Line
            key={'p' + k}
            dataKey={'p' + k}
            type="linear"
            stroke={LINE_COLORS[k]}
            strokeOpacity={0.6}
            strokeWidth={1.4}
            strokeDasharray="1.5 2"
            dot={false}
            activeDot={false}
            isAnimationActive={false}
          />
        ))}
        {solid.map((_, k) => (
          <Line
            key={'s' + k}
            dataKey={'s' + k}
            type="linear"
            stroke={LINE_COLORS[k]}
            strokeOpacity={0.85}
            strokeWidth={2.3}
            dot={false}
            activeDot={false}
            isAnimationActive={false}
          />
        ))}
      </ComposedChart>
    </div>
  );
}

function CountChart({ top }: { top: number }) {
  return (
    <div style={{ position: 'absolute', left: 0, top }}>
      <ComposedChart width={2100} height={364} data={countRows} margin={{ top: 10, right: 22, bottom: 0, left: 0 }}>
        <CartesianGrid vertical={false} stroke="#e4e4e4" />
        <XAxis
          type="number"
          dataKey="t"
          domain={X_DOMAIN}
          ticks={TIME_TICKS}
          interval={0}
          allowDataOverflow
          height={40}
          tickSize={7}
          tickMargin={6}
          axisLine={false}
          tickLine={{ stroke: '#222' }}
          tick={AXIS_FONT}
        />
        <YAxis
          type="number"
          domain={[-6.27, 37.05]}
          ticks={COUNT_TICKS}
          interval={0}
          allowDataOverflow
          width={PLOT_LEFT}
          tickSize={7}
          tickMargin={6}
          axisLine={false}
          tickLine={{ stroke: '#222' }}
          tick={AXIS_FONT}
          tickFormatter={(v: number) => (v < 0 ? '\u2212' + Math.abs(v) : String(v))}
        />
        {roundMarkers()}
        <Area dataKey="bandM" type="linear" fill="#0000ff" fillOpacity={0.15} stroke="#0000ff" strokeOpacity={0.15} strokeWidth={1} dot={false} activeDot={false} isAnimationActive={false} />
        <Area dataKey="bandL" type="linear" fill="#ff0000" fillOpacity={0.15} stroke="#ff0000" strokeOpacity={0.15} strokeWidth={1} dot={false} activeDot={false} isAnimationActive={false} />
        <Line dataKey="predL" type="linear" stroke="#ff0000" strokeOpacity={0.6} strokeWidth={2.5} strokeDasharray="2.5 3.5" dot={false} activeDot={false} isAnimationActive={false} />
        <Line dataKey="predM" type="linear" stroke="#0000ff" strokeOpacity={0.6} strokeWidth={2.5} strokeDasharray="2.5 3.5" dot={false} activeDot={false} isAnimationActive={false} />
        <Line dataKey="truthL" type="linear" stroke="#ff0000" strokeOpacity={0.75} strokeWidth={3} dot={false} activeDot={false} isAnimationActive={false} />
        <Line dataKey="truthM" type="linear" stroke="#0000ff" strokeOpacity={0.75} strokeWidth={3} dot={false} activeDot={false} isAnimationActive={false} />
      </ComposedChart>
    </div>
  );
}

function ProbLegend({ top }: { top: number }) {
  const cols = [4, 115, 235, 355];
  return (
    <div
      style={{
        position: 'absolute', left: 1616, top, width: 455, height: 40, boxSizing: 'border-box',
        background: 'rgba(255,255,255,0.8)', border: '1px solid #d2d2d2', borderRadius: 3,
      }}
    >
      {LINES.map((name, k) => (
        <div
          key={name}
          style={{
            position: 'absolute', left: cols[Math.floor(k / 2)], top: k % 2 === 0 ? 2 : 22, height: 16,
            display: 'flex', alignItems: 'center', whiteSpace: 'nowrap',
          }}
        >
          <span style={{ display: 'inline-block', width: 28, height: 2.5, background: LINE_COLORS[k], opacity: 0.85 }} />
          <span style={{ marginLeft: 8, fontSize: 12, fontFamily: FONT, color: '#111' }}>{name}</span>
        </div>
      ))}
    </div>
  );
}

function CountLegend() {
  const items = [
    { text: `Truth LEWYS PARFITT: ${TRUTH_L[TRUTH_L.length - 1]}`, color: '#ff0000', dash: undefined, op: 0.75 },
    { text: `Truth MORGAN MCINTOSH: ${TRUTH_M[TRUTH_M.length - 1]}`, color: '#0000ff', dash: undefined, op: 0.75 },
    { text: `Predicted LEWYS PARFITT: ${PRED_L[0]}`, color: '#ff0000', dash: '2.5 3.5', op: 0.6 },
    { text: `Predicted MORGAN MCINTOSH: ${PRED_M[0]}`, color: '#0000ff', dash: '2.5 3.5', op: 0.6 },
  ];
  const rowTops = [3, 26, 49, 71];
  return (
    <div
      style={{
        position: 'absolute', left: 100, top: 1114, width: 317, height: 94, boxSizing: 'border-box',
        background: 'rgba(255,255,255,0.8)', border: '1px solid #d2d2d2', borderRadius: 3,
      }}
    >
      {items.map((it, i) => (
        <div key={it.text} style={{ position: 'absolute', left: 6, top: rowTops[i], height: 18, display: 'flex', alignItems: 'center', whiteSpace: 'nowrap' }}>
          <svg width={31} height={6}>
            <line x1={0} y1={3} x2={31} y2={3} stroke={it.color} strokeOpacity={it.op} strokeWidth={it.dash ? 2.5 : 3} strokeDasharray={it.dash} />
          </svg>
          <span style={{ marginLeft: 10, fontSize: 14, fontFamily: FONT, color: '#111' }}>{it.text}</span>
        </div>
      ))}
    </div>
  );
}

function Frame({ top, height }: { top: number; height: number }) {
  return (
    <div
      style={{
        position: 'absolute', left: PLOT_LEFT - 0.75, top: top - 0.75, width: PLOT_W + 1.5, height: height + 1.5,
        border: '1.5px solid #222', boxSizing: 'border-box', pointerEvents: 'none',
      }}
    />
  );
}

function Title({ top, text }: { top: number; text: string }) {
  return (
    <div
      style={{
        position: 'absolute', left: PLOT_LEFT, top, width: PLOT_W, textAlign: 'center',
        fontSize: 20.5, fontFamily: FONT, color: '#111', lineHeight: '24px', whiteSpace: 'nowrap',
      }}
    >
      {text}
    </div>
  );
}

function SideLabel({ x, y, text, size }: { x: number; y: number; text: string; size: number }) {
  return (
    <div
      style={{
        position: 'absolute', left: x, top: y, transform: 'translate(-50%, -50%) rotate(-90deg)',
        fontSize: size, fontFamily: FONT, color: '#111', whiteSpace: 'nowrap',
      }}
    >
      {text}
    </div>
  );
}

export default function App() {
  return (
    <div style={{ position: 'absolute', left: 0, top: 0, width: 2100, height: 1500, background: '#fff', overflow: 'hidden' }}>
      <ProbChart top={0} solid={L_SOLID} pred={L_PRED} />
      <ProbChart top={527} solid={M_SOLID} pred={M_PRED} />
      <CountChart top={1097} />

      <Frame top={52} height={467} />
      <Frame top={579} height={467} />
      <Frame top={1107} height={314} />

      <ProbLegend top={58} />
      <ProbLegend top={585} />
      <CountLegend />

      <Title top={20} text="LEWYS PARFITT — Jab Strikes Thrown R6 Over Full Fight (Event 16316)" />
      <Title top={548} text="MORGAN MCINTOSH — Jab Strikes Thrown R6 Over Full Fight (Event 16316)" />

      <SideLabel x={28} y={286} text="Prob" size={14.5} />
      <SideLabel x={28} y={814} text="Prob" size={14.5} />
      <SideLabel x={37} y={1264} text="Count" size={15} />

      <div
        style={{
          position: 'absolute', left: PLOT_LEFT, top: 1453, width: PLOT_W, textAlign: 'center',
          fontSize: 20.8, fontFamily: FONT, color: '#111', lineHeight: '26px',
        }}
      >
        Fight time (seconds)
      </div>
    </div>
  );
}
